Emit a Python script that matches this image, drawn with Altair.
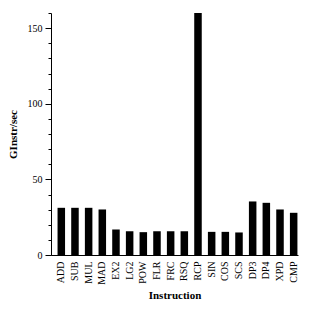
import altair as alt
import pandas as pd

instructions = ["ADD", "SUB", "MUL", "MAD", "EX2", "LG2", "POW", "FLR", "FRC",
                "RSQ", "RCP", "SIN", "COS", "SCS", "DP3", "DP4", "XPD", "CMP"]
ginstr = [31.2, 31.2, 31.2, 30.1, 16.9, 15.7, 15.1, 15.7, 15.7,
          15.7, 160, 15.3, 15.3, 14.9, 35.4, 34.5, 30.1, 27.9]
major_ticks = [0, 50, 100, 150]
minor_ticks = [v for v in range(0, 161, 10)]

df = pd.DataFrame({"Instruction": instructions, "GInstr/sec": ginstr})

FONT = "Liberation Serif"

yscale = alt.Scale(domain=[0, 160], nice=False, zero=True)
xscale = alt.Scale(paddingInner=0.45, paddingOuter=0.26, align=0.92)

bars = alt.Chart(df).mark_bar(color="black", clip=True).encode(
    x=alt.X("Instruction:N", sort=instructions, scale=xscale,
            axis=alt.Axis(title="Instruction", labelAngle=270, ticks=False,
                          labelPadding=6, labelFontSize=10, labelFont=FONT,
                          titleFont=FONT, titleFontSize=11, titleFontWeight="bold",
                          titlePadding=5, domainColor="black", labelColor="black",
                          titleColor="black", labelBaseline="middle", labelAlign="right")),
    y=alt.Y("GInstr/sec:Q", scale=yscale,
            axis=alt.Axis(title="GInstr/sec", values=major_ticks, tickSize=6,
                          labelPadding=3, labelFontSize=10, labelFont=FONT,
                          titleFont=FONT, titleFontSize=11, titleFontWeight="bold",
                          titlePadding=9, grid=False, domainColor="black",
                          tickColor="black", labelColor="black", titleColor="black")),
)

minor = alt.Chart(pd.DataFrame({"v": minor_ticks})).mark_point(opacity=0).encode(
    y=alt.Y("v:Q", scale=yscale,
            axis=alt.Axis(orient="left", values=minor_ticks, tickSize=3, labels=False,
                          domain=False, title=None, grid=False, tickColor="black")),
)

chart = alt.layer(bars, minor).resolve_axis(y="independent").properties(
    width=247, height=242,
    autosize=alt.AutoSizeParams(type="none"),
    padding={"left": 51, "top": 13, "right": 22, "bottom": 56},
).configure_view(stroke=None)

chart.save("out.html", embed_options={"renderer": "svg", "actions": False})
